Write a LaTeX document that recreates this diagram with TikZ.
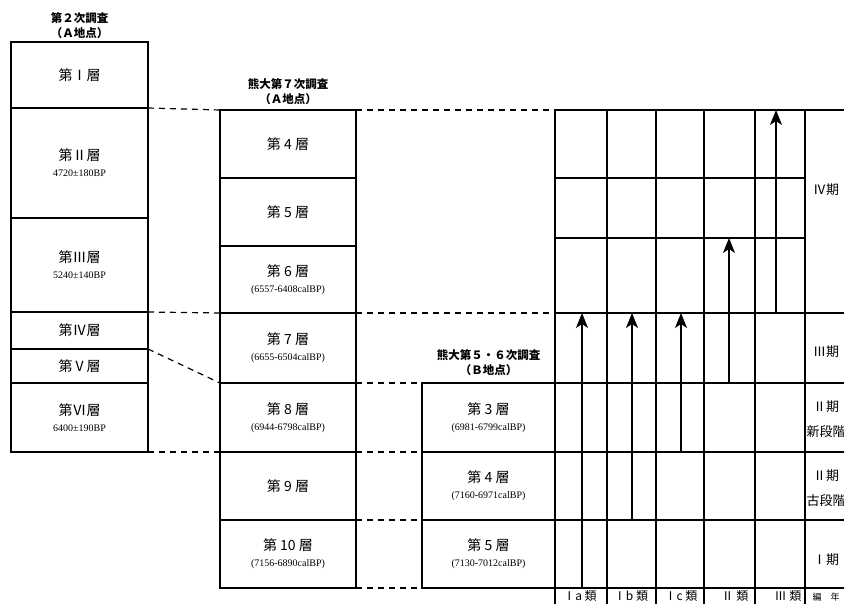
\documentclass[tikz,border=0pt]{standalone}
\usepackage{fontspec}
\newfontfamily\jp{Noto Sans CJK JP}
\newfontfamily\tm{Liberation Serif}
\usetikzlibrary{arrows.meta}
\newcommand{\datum}[1]{\\[1pt]{\tm\fontsize{10}{10}\selectfont #1}}

\begin{document}
\begin{tikzpicture}[x=1pt, y=-1pt,
    >={Stealth[length=15pt,width=12pt,inset=4pt]},   %Pfeilspitzen
    layer/.style={draw, line width=1.2pt, inner sep=0pt, outer sep=0pt, align=center,
      font=\jp\fontsize{14}{15}\selectfont, minimum height=#1},
    colA/.style={layer=#1, minimum width=137pt},
    colB/.style={layer=#1, minimum width=136pt},
    colC/.style={layer=#1, minimum width=133pt},
    survey/.style={align=center, inner sep=0pt, font=\jp\bfseries\fontsize{11.5}{15}\selectfont},
    phase/.style={align=center, inner sep=0pt, font=\jp\fontsize{13}{15}\selectfont},
    kind/.style={inner sep=0pt, font=\jp\fontsize{12}{13}\selectfont},
    tie/.style={line width=1.2pt, dash pattern=on 6pt off 5pt},
    raster/.style={line width=1.2pt}]
    \useasboundingbox (0,0) rectangle (844,604);
    \clip (0,0) rectangle (844,604);
    % 2nd survey (A)
    \node[survey] (ta) at (79.5,25.5) {第２次調査\\（Ａ地点）};
    \node[colA=66pt] (a1) at (79.5,75) {第Ⅰ層};
    \node[colA=110pt] (a2) at (79.5,163) {第Ⅱ層\datum{4720±180BP}};
    \node[colA=94pt] (a3) at (79.5,265) {第Ⅲ層\datum{5240±140BP}};
    \node[colA=37pt] (a4) at (79.5,330.5) {第Ⅳ層};
    \node[colA=34pt] (a5) at (79.5,366) {第Ⅴ層};
    \node[colA=69pt] (a6) at (79.5,417.5) {第Ⅵ層\datum{6400±190BP}};
    % 7th survey (A)
    \node[survey] (tb) at (288,92) {熊大第７次調査\\（Ａ地点）};
    \node[colB=68pt] (b4) at (288,144) {第 4 層};
    \node[colB=68pt] (b5) at (288,212) {第 5 層};
    \node[colB=67pt] (b6) at (288,279.5) {第 6 層\datum{(6557-6408calBP)}};
    \node[colB=70pt] (b7) at (288,348) {第 7 層\datum{(6655-6504calBP)}};
    \node[colB=69pt] (b8) at (288,417.5) {第 8 層\datum{(6944-6798calBP)}};
    \node[colB=68pt] (b9) at (288,486) {第 9 層};
    \node[colB=68pt] (b10) at (288,554) {第 10 層\datum{(7156-6890calBP)}};
    % 5th/6th survey (B)
    \node[survey] (tc) at (488.5,362.5) {熊大第５・６次調査\\（Ｂ地点）};
    \node[colC=69pt] (c3) at (488.5,417.5) {第 3 層\datum{(6981-6799calBP)}};
    \node[colC=68pt] (c4) at (488.5,486) {第 4 層\datum{(7160-6971calBP)}};
    \node[colC=68pt] (c5) at (488.5,554) {第 5 層\datum{(7130-7012calBP)}};
    % table
    \coordinate (g1) at (555,110);
    \coordinate (g2) at (555,313);
    \foreach \x in {555,607,656,704,755,805} \draw[raster] (\x,110) -- (\x,610);
    \foreach \y in {110,313,383,452,520,588} \draw[raster] (555,\y) -- (850,\y);
    \foreach \y in {178,238} \draw[raster] (555,\y) -- (805,\y);
    % dashed ties
    \draw[tie] (a1.south east) -- (b4.north west);
    \draw[tie] (b4.north east) -- (g1);
    \draw[tie] (a3.south east) -- (b7.north west);
    \draw[tie] (b7.north east) -- (g2);
    \draw[tie] (a5.north east) -- (b8.north west);
    \draw[tie] (a6.south east) -- (b9.north west);
    \draw[tie] (b8.north east) -- (c3.north west);
    \draw[tie] (b9.north east) -- (c4.north west);
    \draw[tie] (b10.north east) -- (c5.north west);
    \draw[tie] (b10.south east) -- (c5.south west);
    % arrows
    \foreach \x/\a/\b [count=\i] in {582/588/313, 632/520/313, 681/452/313, 729/383/238, 776/313/110}{
      \coordinate (s\i) at (\x,\a);
      \coordinate (e\i) at (\x,\b);
      \draw[->, line width=1.1pt] (s\i) -- (e\i);}
    % periods
    \node[phase] (p4) at (826,190) {Ⅳ期};
    \node[phase] (p3) at (826,352) {Ⅲ期};
    \node[phase] (p2n) at (826,419.5) {Ⅱ期\\[10pt]新段階};
    \node[phase] (p2a) at (826,488.5) {Ⅱ期\\[10pt]古段階};
    \node[phase] (p1) at (826,560) {Ⅰ期};
    % types
    \foreach \x/\t [count=\i] in {580/Ⅰa 類, 631/Ⅰb 類, 681/Ⅰc 類, 735/Ⅱ 類, 788/Ⅲ 類}
      \node[kind] (k\i) at (\x,596.5) {\t};
    \node[kind, font=\jp\fontsize{9}{10}\selectfont] (k6) at (826,597) {編　年};
\end{tikzpicture}
\end{document}
